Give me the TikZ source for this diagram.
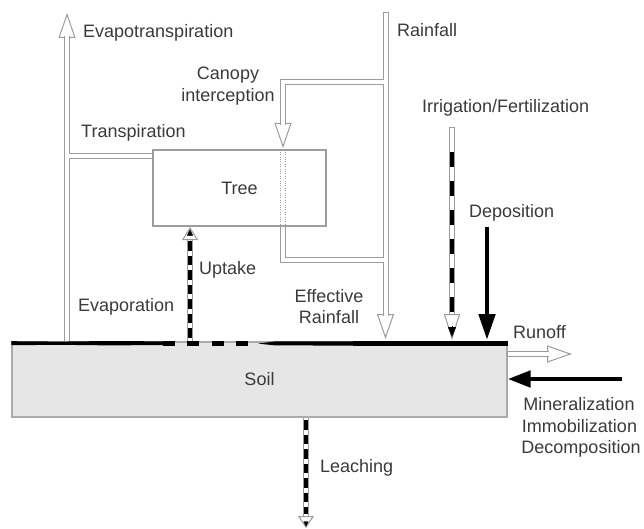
\documentclass[tikz,border=0pt]{standalone}
\usepackage{fontspec}
\setmainfont{Liberation Sans}
\usetikzlibrary{arrows.meta}
\definecolor{txt}{HTML}{3A3A3A}
\definecolor{ln}{HTML}{9C9C9C}
\definecolor{soilln}{HTML}{ABABAB}
\definecolor{soilfill}{HTML}{E6E6E6}
\begin{document}
\begin{tikzpicture}[x=1pt,y=-1pt,
  lbl/.style={font=\fontsize{18}{21.5}\selectfont, text=txt, inner sep=0pt, anchor=base west},
  lblc/.style={lbl, anchor=base},
  outerflow/.style={draw=ln, line width=6pt},
  innerflow/.style={draw=white, line width=4pt},
  hhead/.style={draw=ln, line width=1pt, -{Triangle[length=25pt,width=17pt,fill=white]}},
  dshell/.style={draw=ln, line width=6.5pt},
  dfill/.style={draw=white, line width=4.5pt},
  ddash/.style={draw=black, line width=3.6pt, dash pattern=on 9.5pt off 5pt},
  dhead/.style={draw=ln, line width=1pt, -{Triangle[length=13pt,width=16pt,fill=white]}},
  dtip/.style={draw=black, line width=0.3pt, -{Triangle[length=6pt,width=6pt]}},
  blackflow/.style={draw=black, line width=4.8pt, -{Triangle[length=26pt,width=16pt]}},
  dotline/.style={draw=ln, line width=0.8pt, dash pattern=on 1pt off 1.4pt},
]
\useasboundingbox (0,0) rectangle (644,529);

% ---------- tree ----------
\node[draw=ln, line width=1.2pt, minimum width=173pt, minimum height=76pt, inner sep=0pt,
      font=\fontsize{18}{21.5}\selectfont, text=txt] (tree) at (239.5,188) {Tree};

% ---------- hollow flow coordinates ----------
\coordinate (et-tip) at (67,13);
\coordinate (et-base) at (67,38);
\coordinate (et-in) at (67,36);
\coordinate (et-bot) at (67,341);
\coordinate (tr-j) at (67,156.5);
\coordinate (rf-top) at (385.5,12);
\coordinate (rf-topi) at (385.5,13);
\coordinate (ci-j) at (385.5,82.5);
\coordinate (ci-c) at (283,82.5);
\coordinate (ci-in) at (283,125);
\coordinate (ci-base) at (283,123);
\coordinate (ci-tip) at (283,148);
\coordinate (tb-c) at (283,260);
\coordinate (tb-j) at (385.5,260);
\coordinate (er-in) at (385.5,316);
\coordinate (er-base) at (385.5,314);
\coordinate (er-tip) at (385.5,339);
\coordinate (ro-start) at (507,354);
\coordinate (ro-in) at (549,354);
\coordinate (ro-base) at (547,354);
\coordinate (ro-tip) at (572,354);

% heads first
\draw[hhead] (et-base) -- (et-tip);
\draw[hhead] (ci-base) -- (ci-tip);
\draw[hhead] (er-base) -- (er-tip);
\draw[hhead] (ro-base) -- (ro-tip);

\def\hollowflows#1{%
  \draw[#1] (et-in) -- (et-bot);
  \draw[#1] (tr-j) -- (tree.west |- tr-j);
  \draw[#1] (ci-j) -- (ci-c) -- (ci-in);
  \draw[#1] (tree.south -| tb-c) -- (tb-c) -- (tb-j);
  \draw[#1] (ro-start) -- (ro-in);
}
\hollowflows{outerflow}
\draw[outerflow] (rf-top) -- (er-in);
\hollowflows{innerflow}
\draw[innerflow] (rf-topi) -- (er-in);

% dotted passage through the canopy
\draw[dotline] ([xshift=-2.6pt]tree.north -| ci-c) -- ([xshift=-2.6pt]tree.south -| ci-c);
\draw[dotline] ([xshift=2.6pt]tree.north -| ci-c) -- ([xshift=2.6pt]tree.south -| ci-c);

% ---------- soil ----------
\node[draw=soilln, fill=soilfill, line width=1.2pt, minimum width=495pt, minimum height=75pt,
      inner sep=0pt, font=\fontsize{18}{21.5}\selectfont, text=txt] (soil) at (259.5,379.5) {Soil};
\draw[outerflow] (ro-start) -- (ro-in);
\draw[innerflow] ([xshift=0.8pt]ro-start) -- (ro-in);

% ---------- dashed flows ----------
% uptake
\coordinate (up-bot) at (190,342);
\coordinate (up-base) at (190,240);
\coordinate (up-tip) at (190,227);
\draw[dshell] (up-bot) -- (190,238.5);
\draw[dfill] (up-bot) -- (190,238.5);
\draw[ddash] (190,241) -- (up-bot);
\draw[dhead] (up-base) -- (up-tip);
\draw[dtip] (190,236) -- (190,229.5);
% irrigation
\coordinate (ir-top) at (452,127);
\coordinate (ir-base) at (452,314);
\coordinate (ir-tip) at (452,340);
\draw[dshell] (ir-top) -- (452,315.5);
\draw[dfill] (452,128) -- (452,315.5);
\draw[ddash, dash pattern=on 15pt off 14pt] (452,152) -- (452,313);
\draw[dhead, -{Triangle[length=26pt,width=16pt,fill=white]}] (ir-base) -- (ir-tip);
\draw[dtip, -{Triangle[length=10pt,width=8pt]}] (452,326) -- (452,337);
% leaching
\coordinate (le-base) at (306,516);
\coordinate (le-tip) at (306,528);
\draw[dshell] (soil.south -| le-tip) -- (306,517.5);
\draw[dfill] (soil.south -| le-tip) -- (306,517.5);
\draw[ddash] (306,420) -- (306,514);
\draw[dhead, -{Triangle[length=12pt,width=16pt,fill=white]}] (le-base) -- (le-tip);
\draw[dtip, -{Triangle[length=5pt,width=5pt]}] (306,521.5) -- (306,526.5);

% ---------- soil surface ----------
\fill[black] (11.4,341.2) -- (60,341.6) -- (110,341) -- (165,341.4) -- (165,345) -- (110,345.4) -- (60,344.8) -- (11.4,345.2) -- cycle;
\foreach \a in {163,187,212,236} \fill[black] (\a,341) rectangle (\a+12,346);
\fill[black] (258,343.6) -- (275,341.4) -- (353,341.4) -- (353,345.6) -- (275,345.4) -- cycle;
\fill[black] (353,341) rectangle (507.6,346);

% ---------- black flows ----------
\coordinate (dep-top) at (487,227);
\coordinate (dep-tip) at (487,340);
\draw[blackflow] (dep-top) -- (dep-tip);
\coordinate (mi-start) at (622,379);
\draw[blackflow, -{Triangle[length=23pt,width=16pt]}] (mi-start) -- (mi-start -| soil.east);

% ---------- labels ----------
\node[lbl] (l-et) at (83,37.5) {Evapotranspiration};
\node[lblc] (l-ci1) at (228,80) {Canopy};
\node[lblc] (l-ci2) at (228,101.5) {interception};
\node[lbl] (l-tr) at (81,137.7) {Transpiration};
\node[lbl] (l-rf) at (397,37) {Rainfall};
\node[lbl] (l-ir) at (422,112.5) {Irrigation/Fertilization};
\node[lbl] (l-dep) at (469,218) {Deposition};
\node[lbl] (l-up) at (199,274) {Uptake};
\node[lbl] (l-ev) at (78,311) {Evaporation};
\node[lblc] (l-ef1) at (329,302) {Effective};
\node[lblc] (l-ef2) at (329,323) {Rainfall};
\node[lbl] (l-ro) at (513,338) {Runoff};
\node[lblc] (l-m1) at (579,410) {Mineralization};
\node[lblc] (l-m2) at (579.5,432) {Immobilization};
\node[lblc] (l-m3) at (581,453) {Decomposition};
\node[lbl] (l-le) at (320,472) {Leaching};
\end{tikzpicture}
\end{document}
